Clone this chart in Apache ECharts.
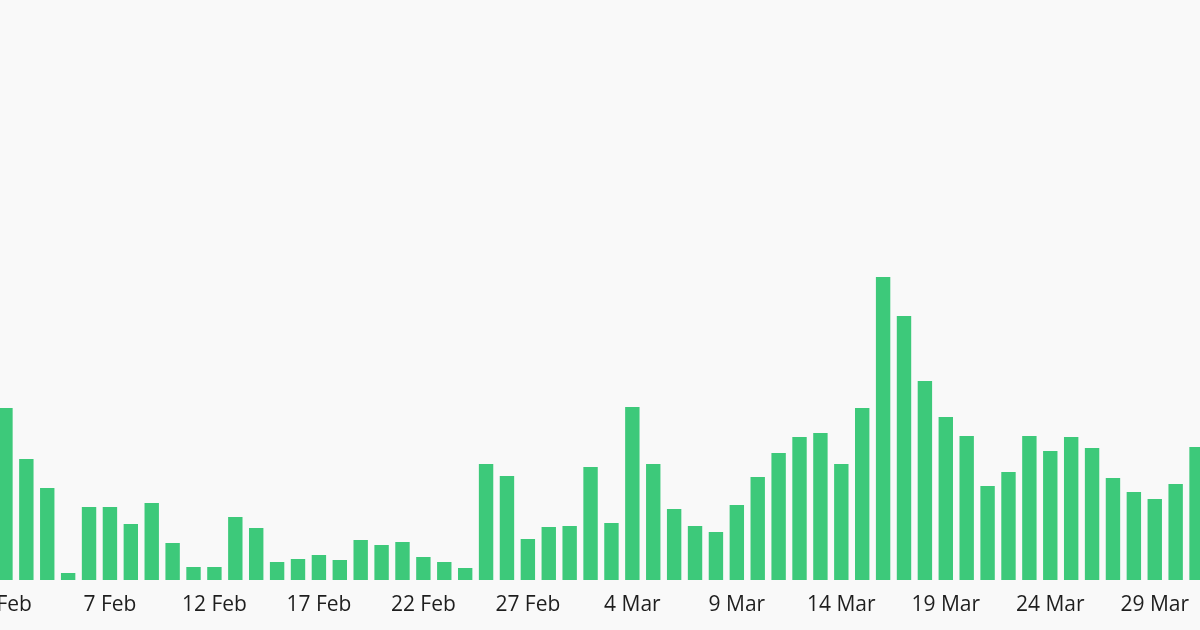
<!DOCTYPE html>
<html>
<head>
<meta charset="utf-8">
<script src="https://cdn.jsdelivr.net/npm/echarts@6/dist/echarts.min.js"></script>
<style>
html,body{margin:0;padding:0;background:#f9f9f9;overflow:hidden;width:1200px;height:630px;position:relative;}
#chart{position:absolute;left:-5.5px;top:0;width:1212px;height:630px;}
</style>
</head>
<body>
<div id="chart"></div>
<script>
const dates = [
  "2 Feb","3 Feb","4 Feb","5 Feb","6 Feb","7 Feb","8 Feb","9 Feb","10 Feb","11 Feb",
  "12 Feb","13 Feb","14 Feb","15 Feb","16 Feb","17 Feb","18 Feb","19 Feb","20 Feb","21 Feb",
  "22 Feb","23 Feb","24 Feb","25 Feb","26 Feb","27 Feb","28 Feb","1 Mar","2 Mar","3 Mar",
  "4 Mar","5 Mar","6 Mar","7 Mar","8 Mar","9 Mar","10 Mar","11 Mar","12 Mar","13 Mar",
  "14 Mar","15 Mar","16 Mar","17 Mar","18 Mar","19 Mar","20 Mar","21 Mar","22 Mar","23 Mar",
  "24 Mar","25 Mar","26 Mar","27 Mar","28 Mar","29 Mar","30 Mar","31 Mar"
];
const values = [
  172,121,92,7,73,73,56,77,37,13,
  13,63,52,18,21,25,20,40,35,38,
  23,18,12,116,104,41,53,54,113,57,
  173,116,71,54,48,75,103,127,143,147,
  116,172,303,264,199,163,144,94,108,144,
  129,143,132,102,88,81,96,133
];
const yMax = 580;

const chart = echarts.init(document.getElementById('chart'));
chart.setOption({
  backgroundColor: '#f9f9f9',
  animation: false,
  grid: { left: 0, right: 0, top: 0, bottom: 50, containLabel: false, outerBoundsMode: 'none' },
  xAxis: {
    type: 'category',
    data: dates,
    axisLine: { show: false },
    axisTick: { show: false },
    axisLabel: {
      interval: 4,
      color: '#1e1e1e',
      fontFamily: 'Open Sans',
      fontSize: 21,
      margin: 15
    }
  },
  yAxis: {
    type: 'value',
    min: 0,
    max: yMax,
    show: false,
    splitLine: { show: false }
  },
  series: [{
    type: 'bar',
    data: values,
    barWidth: 14.4,
    itemStyle: { color: '#3dc97a' }
  }]
});
</script>
</body>
</html>
